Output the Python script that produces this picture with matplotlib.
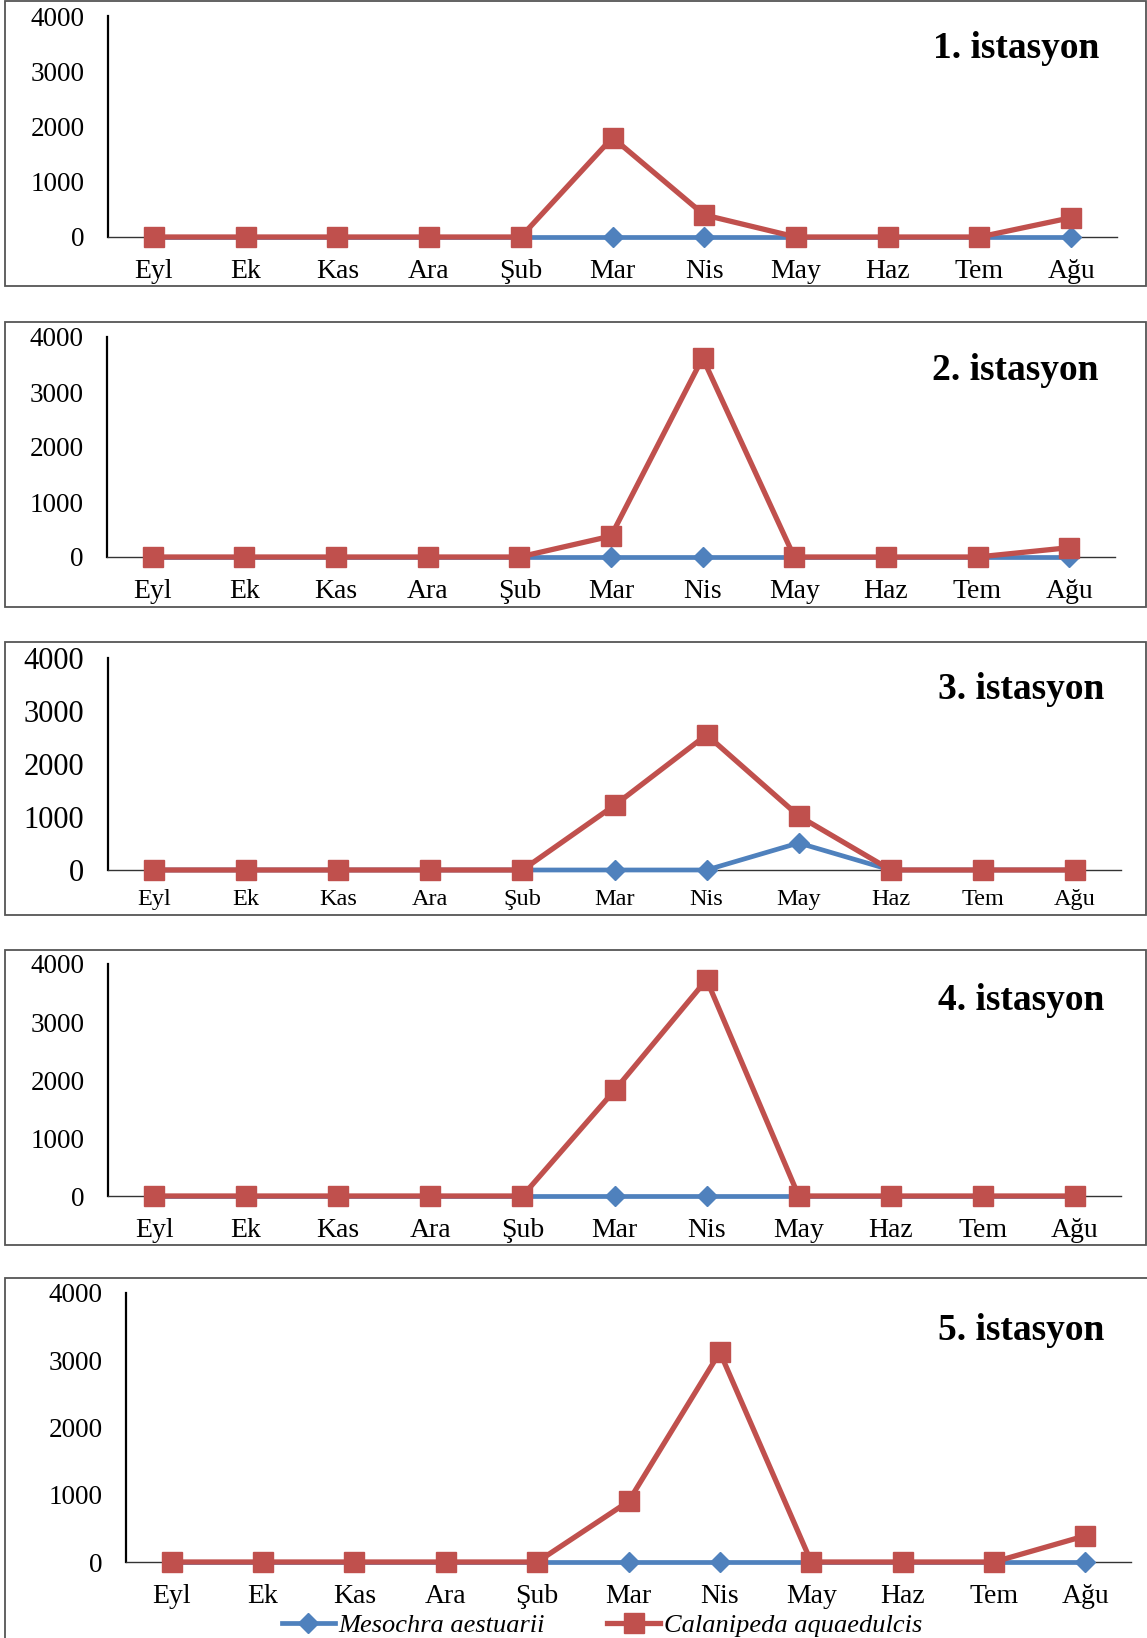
import matplotlib
matplotlib.use('Agg')
import matplotlib.pyplot as plt
from matplotlib.patches import Rectangle

plt.rcParams['font.family'] = ['Liberation Serif', 'DejaVu Serif']

months = ['Eyl', 'Ek', 'Kas', 'Ara', 'Şub', 'Mar', 'Nis', 'May', 'Haz', 'Tem', 'Ağu']
stations = ['1. istasyon', '2. istasyon', '3. istasyon', '4. istasyon', '5. istasyon']
species = ['Mesochra aestuarii', 'Calanipeda aquaedulcis']
yticks = [0, 1000, 2000, 3000, 4000]

mes_1 = [0, 0, 0, 0, 0, 0, 0, 0, 0, 0, 0]
cal_1 = [0, 0, 0, 0, 0, 1800, 400, 0, 0, 0, 350]
mes_2 = [0, 0, 0, 0, 0, 0, 0, 0, 0, 0, 0]
cal_2 = [0, 0, 0, 0, 0, 380, 3620, 0, 0, 0, 170]
mes_3 = [0, 0, 0, 0, 0, 0, 0, 510, 0, 0, 0]
cal_3 = [0, 0, 0, 0, 0, 1220, 2550, 1020, 0, 0, 0]
mes_4 = [0, 0, 0, 0, 0, 0, 0, 0, 0, 0, 0]
cal_4 = [0, 0, 0, 0, 0, 1820, 3730, 0, 0, 0, 0]
mes_5 = [0, 0, 0, 0, 0, 0, 0, 0, 0, 0, 0]
cal_5 = [0, 0, 0, 0, 0, 900, 3120, 0, 0, 0, 390]

mes_all = [mes_1, mes_2, mes_3, mes_4, mes_5]
cal_all = [cal_1, cal_2, cal_3, cal_4, cal_5]

W, H = 1147, 1638
fig = plt.figure(figsize=(W / 100, H / 100), dpi=100)

# pixel layout: frame box, plot area (left, top, right, bottom), title anchor, label sizes
boxes = [(5, 1, 1146, 286), (5, 322, 1146, 607), (5, 642, 1146, 915),
         (5, 950, 1146, 1245), (5, 1278, 1160, 1700)]
areas = [(108, 16, 1117, 237), (107, 337, 1115, 557), (108, 658, 1121, 870),
         (108, 964, 1121, 1196), (126, 1293, 1131, 1562)]
titles_at = [(1099, 49), (1099, 370), (1104, 689), (1104, 1000), (1104, 1331)]
ysize = [19.5, 19.5, 22, 19.5, 19.5]
xsize = [20, 20, 17.5, 20, 20]
xpad = [15.5, 15.5, 14, 16, 15.5]

blue = '#4F81BD'
red = '#C0504D'

for i in range(5):
    x0, y0, x1, y1 = boxes[i]
    fig.add_artist(Rectangle((x0 / W, 1 - y1 / H), (x1 - x0) / W, (y1 - y0) / H,
                             transform=fig.transFigure, fill=False,
                             edgecolor='#555555', lw=1.3))
    l, t, r, b = areas[i]
    ax = fig.add_axes([l / W, 1 - b / H, (r - l) / W, (b - t) / H])
    x = range(len(months))
    lm, = ax.plot(x, mes_all[i], color=blue, lw=3.4, marker='D', ms=10,
                  clip_on=False, zorder=3)
    lc, = ax.plot(x, cal_all[i], color=red, lw=3.8, marker='s', ms=14,
                  clip_on=False, zorder=4)
    ax.set_xlim(-0.5, len(months) - 0.5)
    ax.set_ylim(0, 4000)
    ax.set_yticks(yticks)
    ax.set_xticks(list(x))
    ax.set_xticklabels(months)
    for s in ['top', 'right']:
        ax.spines[s].set_visible(False)
    ax.spines['left'].set_linewidth(1.6)
    ax.spines['bottom'].set_linewidth(1.0)
    ax.spines['bottom'].set_color('#333333')
    ax.tick_params(axis='y', length=0, pad=17, labelsize=ysize[i])
    ax.tick_params(axis='x', length=0, pad=xpad[i], labelsize=xsize[i])
    tx, ty = titles_at[i]
    fig.text(tx / W, 1 - ty / H, stations[i], ha='right', va='center',
             fontsize=27, fontweight='bold')

leg = fig.legend([lm, lc], species, loc='center', bbox_to_anchor=(602 / W, 1 - 1625 / H),
                 ncol=2, frameon=False, handlelength=2.0, handletextpad=0.15,
                 columnspacing=2.35, prop={'style': 'italic', 'size': 19})

fig.savefig('out.png', dpi=100)
